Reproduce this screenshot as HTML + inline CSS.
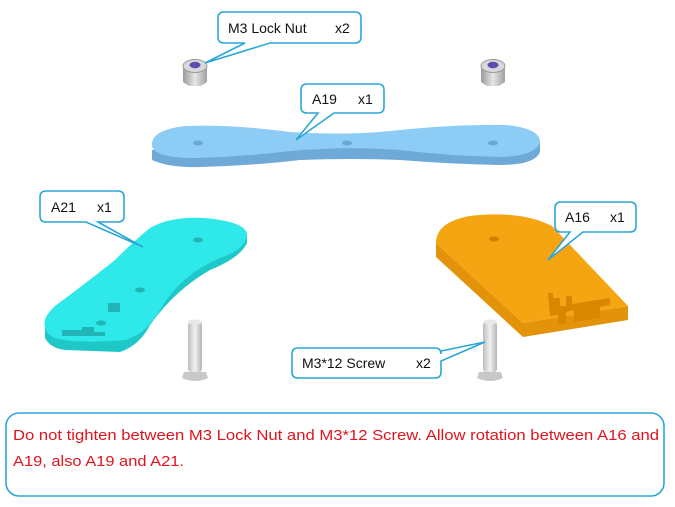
<!DOCTYPE html>
<html><head><meta charset="utf-8"><style>
html,body{margin:0;padding:0;background:#fff;}
svg{display:block;}
text{font-family:"Liberation Sans",sans-serif;}
</style></head><body>
<svg width="675" height="507" viewBox="0 0 675 507" xmlns="http://www.w3.org/2000/svg">
<defs>
<linearGradient id="nut" x1="0" x2="1"><stop offset="0" stop-color="#9a9a9a"/><stop offset=".5" stop-color="#e6e6e6"/><stop offset="1" stop-color="#a0a0a0"/></linearGradient>
<linearGradient id="scr" x1="0" x2="1"><stop offset="0" stop-color="#bdbdbd"/><stop offset=".5" stop-color="#f2f2f2"/><stop offset="1" stop-color="#b5b5b5"/></linearGradient>
</defs>

<!-- nuts -->
<g>
<path d="M183 66 L183 82 L189 86 L201 86 L207 82 L207 66 Z" fill="url(#nut)"/>
<ellipse cx="195" cy="66" rx="12" ry="6.5" fill="#d8d8d8" stroke="#9a9a9a"/>
<ellipse cx="195" cy="65" rx="5.5" ry="3.2" fill="#5a4fb0"/>
<path d="M481 66 L481 82 L487 86 L499 86 L505 82 L505 66 Z" fill="url(#nut)"/>
<ellipse cx="493" cy="66" rx="12" ry="6.5" fill="#d8d8d8" stroke="#9a9a9a"/>
<ellipse cx="493" cy="65" rx="5.5" ry="3.2" fill="#5a4fb0"/>
</g>

<!-- A19 plate -->
<path d="M152 150 L152 160 Q170 168 200 167 Q260 165 300 160 Q350 158 400 160 Q450 164 500 165 Q535 165 540 152 L540 142 Z" fill="#6ea9d8"/>
<path d="M152 146 Q150 130 185 126 Q230 124 290 132 Q345 136 400 130 Q460 124 505 125 Q540 128 540 142 Q536 156 500 157 Q450 156 400 150 Q345 146 290 151 Q240 157 195 158 Q155 158 152 146 Z" fill="#8dcdf5"/>
<ellipse cx="198" cy="143" rx="5" ry="2.5" fill="#6aa8d4"/>
<ellipse cx="347" cy="143" rx="5" ry="2.5" fill="#6aa8d4"/>
<ellipse cx="493" cy="143" rx="5" ry="2.5" fill="#6aa8d4"/>

<!-- A21 -->
<path d="M45 327 L45 338 Q50 348 65 350 L120 352 Q140 345 150 325 Q175 290 210 270 Q240 258 247 243 L247 233 Z" fill="#1fc8c8"/>
<path d="M45 327 Q42 318 55 306 Q90 280 115 260 Q135 240 150 228 Q170 216 205 218 Q247 222 247 235 Q245 250 220 258 Q180 275 160 310 Q145 335 125 340 Q75 344 55 338 Q46 334 45 327 Z" fill="#2fe8ea"/>
<ellipse cx="198" cy="240" rx="5" ry="2.5" fill="#22b5b8"/>
<ellipse cx="140" cy="290" rx="5" ry="2.5" fill="#22b5b8"/>
<ellipse cx="101" cy="323" rx="5" ry="2.5" fill="#22b5b8"/>
<rect x="108" y="303" width="12" height="9" fill="#22b5b8"/>
<path d="M62 330 L82 330 L82 327 L94 327 L94 332 L105 332 L105 336 L62 336 Z" fill="#22b5b8"/>

<!-- A16 -->
<path d="M436 243 L436 257 L523 337 L628 320 L628 306 L523 323 Z" fill="#e3930a"/>
<path d="M436 243 Q436 222 470 216 Q520 210 552 226 L628 306 L523 323 Z" fill="#f5a512"/>
<path d="M548 293 L553 293 L553 298 L560 298 L560 306 L566 306 L566 296 L572 296 L572 304 L610 298 L610 305 L600 307 L600 318 L574 322 L574 310 L566 312 L566 324 L558 325 L558 315 L550 316 Z" fill="#d98700"/>
<ellipse cx="494" cy="239" rx="5" ry="2.5" fill="#cc8000"/>

<!-- screws -->
<rect x="188" y="322" width="14" height="50" rx="3" fill="url(#scr)"/>
<ellipse cx="195" cy="322" rx="7" ry="2.5" fill="#e8e8e8"/>
<path d="M184 372 L206 372 L208 378 Q195 384 182 378 Z" fill="#c8c8c8"/>
<rect x="483" y="322" width="14" height="50" rx="3" fill="url(#scr)"/>
<ellipse cx="490" cy="322" rx="7" ry="2.5" fill="#e8e8e8"/>
<path d="M479 372 L501 372 L503 378 Q490 384 477 378 Z" fill="#c8c8c8"/>

<!-- callouts -->
<g fill="#fff" stroke="#2ba7d6" stroke-width="1.6">
<path d="M224 12 L355 12 Q361 12 361 18 L361 37 Q361 43 355 43 L270 43 L205 63 L245 43 L224 43 Q218 43 218 37 L218 18 Q218 12 224 12 Z"/>
<path d="M307 84 L378 84 Q384 84 384 90 L384 107 Q384 113 378 113 L334 113 L296 140 L318 113 L307 113 Q301 113 301 107 L301 90 Q301 84 307 84 Z"/>
<path d="M46 191 L118 191 Q124 191 124 197 L124 216 Q124 222 118 222 L98 222 L143 247 L86 222 L46 222 Q40 222 40 216 L40 197 Q40 191 46 191 Z"/>
<path d="M561 202 L630 202 Q636 202 636 208 L636 226 Q636 232 630 232 L583 232 L548 260 L570 232 L561 232 Q555 232 555 226 L555 208 Q555 202 561 202 Z"/>
<path d="M298 348 L435 348 Q441 348 441 354 L441 351 L485 342 L441 361 L441 372 Q441 378 435 378 L298 378 Q292 378 292 372 L292 354 Q292 348 298 348 Z"/>
<rect x="6" y="413" width="658" height="83" rx="13"/>
</g>
<g font-size="14" fill="#111">
<text x="228" y="33">M3 Lock Nut</text><text x="335" y="33">x2</text>
<text x="312" y="104">A19</text><text x="358" y="104">x1</text>
<text x="51" y="212">A21</text><text x="97" y="212">x1</text>
<text x="565" y="222">A16</text><text x="610" y="222">x1</text>
<text x="302" y="368">M3*12 Screw</text><text x="416" y="368">x2</text>
</g>
<g font-size="15" fill="#e0141e">
<text x="13" y="440" textLength="646" lengthAdjust="spacingAndGlyphs">Do not tighten between M3 Lock Nut and M3*12 Screw. Allow rotation between A16 and</text>
<text x="13" y="466" textLength="171" lengthAdjust="spacingAndGlyphs">A19, also A19 and A21.</text>
</g>
</svg>
</body></html>
